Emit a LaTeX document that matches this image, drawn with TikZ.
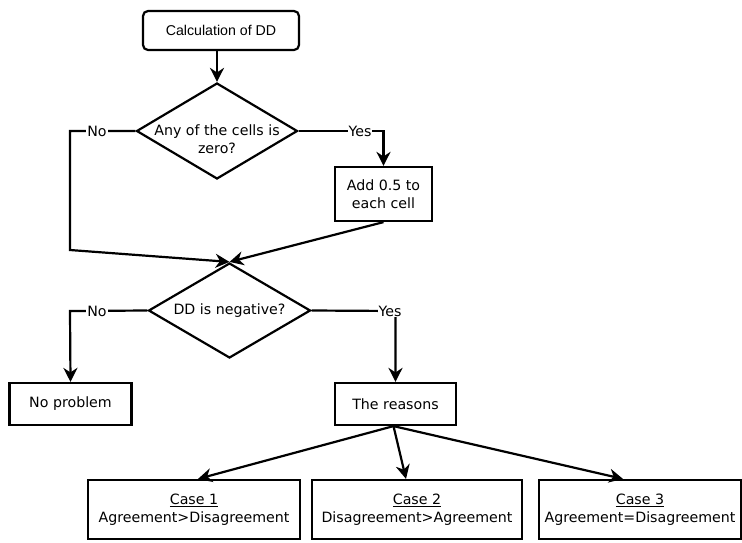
\documentclass[tikz,border=0pt]{standalone}
\usepackage{fontspec}
\setmainfont{DejaVu Sans}
\newfontfamily\arialf{Liberation Sans}
\usetikzlibrary{shapes.geometric,arrows.meta}
\begin{document}
\begin{tikzpicture}[x=1pt,y=-1pt,
  every node/.style={font=\fontsize{14.2}{18}\selectfont, text=black},
  conn/.style={draw=black, line width=2.2pt},
  arr/.style={conn, -{Stealth[length=14pt,width=14pt,inset=4.5pt]}},
  procbox/.style={draw=black, line width=2.2pt, rectangle, inner sep=0pt, align=center},
  decision/.style={draw=black, line width=2.2pt, diamond, inner sep=0pt},
  elabel/.style={fill=white, inner sep=1pt}
]
\useasboundingbox (0,0) rectangle (742,542);

% nodes
\node[procbox, rounded corners=5pt, minimum width=156pt, minimum height=39pt, font=\arialf\fontsize{14.2}{18}\selectfont] (start) at (221,30.5) {Calculation of DD};
\node[decision, minimum width=161pt, minimum height=96pt,
      label={[align=center, yshift=-8pt]center:Any of the cells is\\zero?}] (d1) at (217,131) {};
\node[procbox, minimum width=97pt, minimum height=54pt] (add) at (383.5,194) {Add 0.5 to\\each cell};
\node[decision, minimum width=162pt, minimum height=95pt,
      label={[align=center]center:DD is negative?}] (d2) at (229.5,310.5) {};
\node[procbox, minimum width=122pt, minimum height=42pt] (noprob) at (70.5,404) {No problem};
\node[procbox, minimum width=121pt, minimum height=42pt] (reasons) at (395.5,404) {The reasons};
\node[procbox, minimum width=212pt, minimum height=59pt] (case1) at (194,509.5) {\underline{Case 1}\\Agreement>Disagreement};
\node[procbox, minimum width=210pt, minimum height=59pt] (case2) at (417,509.5) {\underline{Case 2}\\Disagreement>Agreement};
\node[procbox, minimum width=202pt, minimum height=59pt] (case3) at (640,509.5) {\underline{Case 3}\\Agreement=Disagreement};

% connectors
\coordinate (c1) at (70,131);
\coordinate (c2) at (70,250);
\coordinate (c3) at (70,311);
\coordinate (c4) at (395.5,311);

\draw[arr] (start.south -| d1.north) -- (d1.north);
\draw[arr] (d1.east) -| (add.north);
\node[elabel] (yes1) at (360,131) {Yes};
\draw[arr] (d1.west) -- (c1) -- (c2) -- (d2.north);
\node[elabel] (no1) at (97,131) {No};
\draw[arr] (add.south) -- (d2.north);

\draw[arr] (d2.west) -- (c3) -- (noprob.north);
\node[elabel] (no2) at (97,311) {No};
\draw[arr] (d2.east) -- (c4) -- (reasons.north);
\node[elabel] (yes2) at (390,311) {Yes};

\draw[arr] ([xshift=-2pt]reasons.south) -- ([xshift=4pt]case1.north);
\draw[arr] ([xshift=-2pt]reasons.south) -- ([xshift=-11pt]case2.north);
\draw[arr] ([xshift=-2pt]reasons.south) -- ([xshift=-17pt]case3.north);
\end{tikzpicture}
\end{document}
